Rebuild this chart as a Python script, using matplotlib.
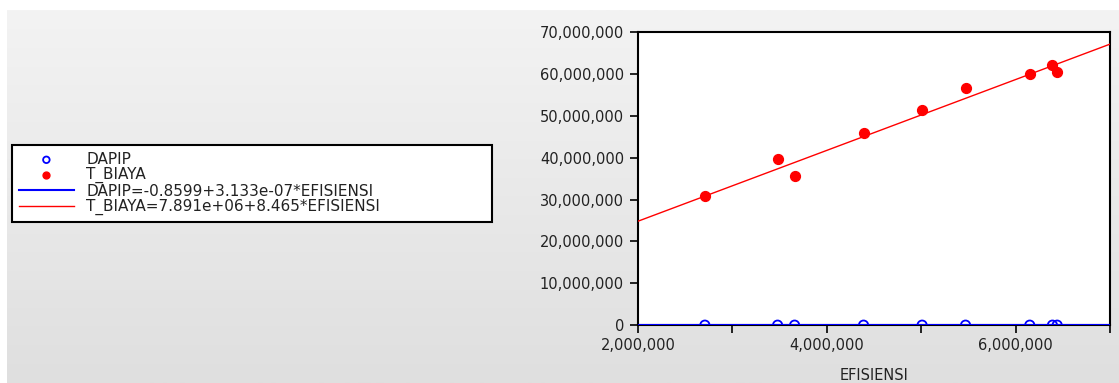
import numpy as np
import matplotlib
matplotlib.use("Agg")
import matplotlib.pyplot as plt
from matplotlib.ticker import FuncFormatter, MultipleLocator

plt.rcParams['font.family'] = ['DejaVu Sans']

# data
efisiensi = [2710000, 3480000, 3660000, 4390000, 5010000, 5470000, 6150000, 6390000, 6440000]
t_biaya = [30800000, 39800000, 35600000, 46000000, 51300000, 56600000, 60100000, 62100000, 60400000]
dapip = [0, 0, 0, 1, 1, 1, 1, 1, 1]

# fitted lines from the legend
dapip_a, dapip_b = -0.8599, 3.133e-07
biaya_a, biaya_b = 7.891e+06, 8.465

fig = plt.figure(figsize=(11.19, 3.83), dpi=100)
fig.patch.set_facecolor('white')

# grey gradient panel behind everything
bg = fig.add_axes([7 / 1119, 0, 1 - 7 / 1119, 373 / 383], zorder=-10)
grad = np.linspace(0, 1, 256).reshape(-1, 1)
bg.imshow(grad, aspect='auto', cmap=matplotlib.colors.LinearSegmentedColormap.from_list(
    'g', ['#f3f3f3', '#dfdfdf']), extent=[0, 1, 0, 1], origin='upper')
bg.set_axis_off()

ax = fig.add_axes([0.570, 0.151, 0.422, 0.765])

xs = np.array([2000000, 7000000])
ax.plot(xs, dapip_a + dapip_b * xs, color='blue', lw=1.5,
        label='DAPIP=-0.8599+3.133e-07*EFISIENSI', zorder=3)
ax.plot(xs, biaya_a + biaya_b * xs, color='red', lw=1,
        label='T_BIAYA=7.891e+06+8.465*EFISIENSI', zorder=3)
ax.scatter(efisiensi, dapip, s=45, facecolors='none', edgecolors='blue',
           linewidths=1.3, label='DAPIP', zorder=4)
ax.scatter(efisiensi, t_biaya, s=50, color='red', label='T_BIAYA', zorder=4)

ax.set_xlim(2000000, 7000000)
ax.set_ylim(0, 70000000)
ax.xaxis.set_major_locator(MultipleLocator(2000000))
ax.xaxis.set_minor_locator(MultipleLocator(1000000))
ax.yaxis.set_major_locator(MultipleLocator(10000000))
fmt = FuncFormatter(lambda v, p: f"{int(v):,}")
ax.xaxis.set_major_formatter(fmt)
ax.yaxis.set_major_formatter(fmt)
ax.tick_params(axis='both', which='both', labelsize=10.5, direction='out',
               length=6, width=1.2, colors='black', labelcolor='#222222')
ax.tick_params(axis='y', pad=4)
ax.tick_params(axis='x', pad=3)
for s in ax.spines.values():
    s.set_linewidth(1.5)
ax.set_xlabel('EFISIENSI', fontsize=10.5, labelpad=11, color='#222222')

h, l = ax.get_legend_handles_labels()
order = [2, 3, 0, 1]
leg = fig.legend([h[i] for i in order], [l[i] for i in order],
                 loc='lower left', bbox_to_anchor=(12 / 1119, 1 - 222 / 383, 480 / 1119, 75 / 383),
                 mode='expand', fontsize=11, frameon=True, fancybox=False,
                 edgecolor='black', facecolor='white', framealpha=1,
                 handlelength=3.6, borderpad=0.45, borderaxespad=0,
                 labelspacing=0.02, handletextpad=0.8, markerscale=0.7)
leg.get_frame().set_linewidth(1.5)
for t in leg.get_texts():
    t.set_color('#222222')

fig.savefig('out.png', dpi=100, facecolor=fig.get_facecolor())
